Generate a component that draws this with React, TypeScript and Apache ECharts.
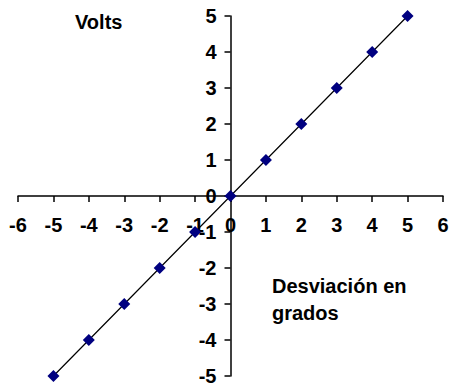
import React, { useEffect, useRef } from "react";
import * as echarts from "echarts";

const xValues = [-5, -4, -3, -2, -1, 0, 1, 2, 3, 4, 5];
const yValues = [-5, -4, -3, -2, -1, 0, 1, 2, 3, 4, 5];
const yAxisTitle = "Volts";
const xAxisTitle = ["Desviación en", "grados"];

const GRID = { left: 18, right: 7, top: 16, bottom: 10 };
const W = 450;
const H = 386;

export default function App() {
  const ref = useRef<HTMLDivElement>(null);
  useEffect(() => {
    const chart = echarts.init(ref.current!, null, { renderer: "svg" });
    const font = "Liberation Sans, Arial, sans-serif";
    const gw = W - GRID.left - GRID.right;
    const gh = H - GRID.top - GRID.bottom;
    // offsets so the axes cross at (0,0)
    const xMin = -6, xMax = 6, yMin = -5, yMax = 5;
    const xOffset = -gh * (0 - yMin) / (yMax - yMin);
    const yOffset = -gw * (0 - xMin) / (xMax - xMin);
    chart.setOption({
      animation: false,
      backgroundColor: "#ffffff",
      grid: { ...GRID, containLabel: false, outerBoundsMode: "none" },
      xAxis: {
        type: "value",
        min: xMin,
        max: xMax,
        interval: 1,
        position: "bottom",
        offset: xOffset,
        splitLine: { show: false },
        axisLine: { onZero: false, lineStyle: { color: "#000", width: 1.5 } },
        axisTick: { show: true, length: 6, lineStyle: { color: "#000", width: 1.5 } },
        axisLabel: {
          show: true,
          margin: 19,
          color: "#000",
          fontFamily: font,
          fontWeight: "bold",
          fontSize: 20,
          showMinLabel: true,
          showMaxLabel: true,
          hideOverlap: false,
        },
      },
      yAxis: {
        type: "value",
        min: yMin,
        max: yMax,
        interval: 1,
        position: "left",
        offset: yOffset,
        splitLine: { show: false },
        axisLine: { onZero: false, lineStyle: { color: "#000", width: 1.5 } },
        axisTick: { show: true, length: 6, lineStyle: { color: "#000", width: 1.5 } },
        axisLabel: {
          show: true,
          margin: 14,
          color: "#000",
          fontFamily: font,
          fontWeight: "bold",
          fontSize: 20,
          showMinLabel: true,
          showMaxLabel: true,
          hideOverlap: false,
        },
      },
      series: [
        {
          type: "line",
          data: xValues.map((x, i) => [x, yValues[i]]),
          symbol: "diamond",
          symbolSize: 12,
          itemStyle: { color: "#000080" },
          lineStyle: { color: "#000", width: 1.2 },
          z: 5,
        },
      ],
      graphic: [
        {
          type: "text",
          x: 75,
          y: 12,
          style: {
            text: yAxisTitle,
            font: `bold 20px ${font}`,
            fill: "#000",
            textVerticalAlign: "top",
          },
        },
        {
          type: "text",
          x: 272,
          y: 272,
          style: {
            text: xAxisTitle.join("\n"),
            font: `bold 20px ${font}`,
            fill: "#000",
            lineHeight: 27,
            textVerticalAlign: "top",
          },
        },
      ],
    });
    return () => chart.dispose();
  }, []);
  return <div ref={ref} style={{ width: W, height: H, position: "absolute", left: 0, top: 0 }} />;
}
